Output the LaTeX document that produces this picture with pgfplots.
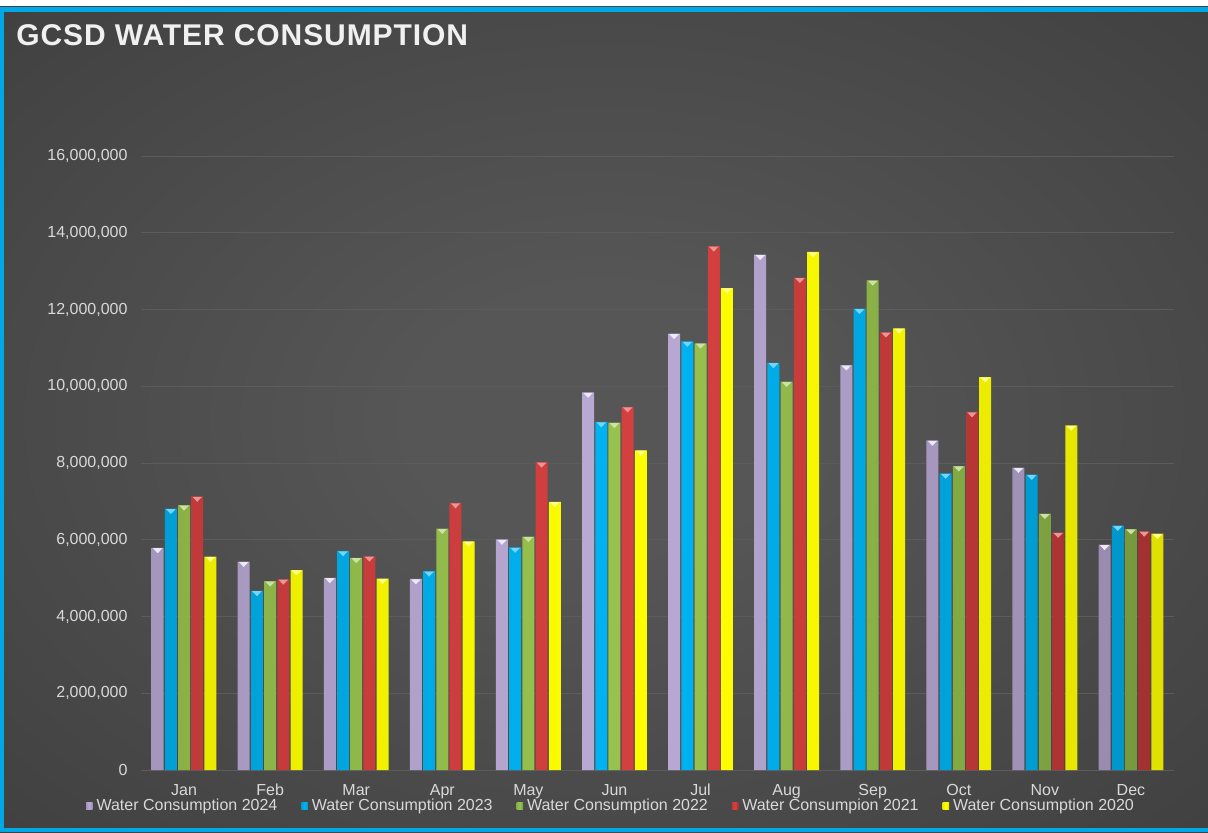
\documentclass[border=0pt]{standalone}
\usepackage{fontspec}
\setmainfont{Liberation Sans}
\usepackage{pgfplots}
\pgfplotsset{compat=1.18}
\usetikzlibrary{shapes.geometric}
\definecolor{bgin}{HTML}{565656}
\definecolor{bgout}{HTML}{242424}
\definecolor{frameblue}{HTML}{00A8E8}
\definecolor{lbl}{HTML}{D9D9D9}
\definecolor{gridc}{HTML}{5C5C5C}
\definecolor{cA}{HTML}{BAAAD6}
\definecolor{cB}{HTML}{00B4F2}
\definecolor{cC}{HTML}{98C44E}
\definecolor{cD}{HTML}{D64040}
\definecolor{cE}{HTML}{FFFF00}
\pgfdeclareradialshading{bgshade}{\pgfpoint{0bp}{0bp}}{color(0bp)=(bgin); color(8bp)=(bgin); color(72bp)=(bgout)}
\tikzset{tri/.style={shape=isosceles triangle, shape border rotate=270, isosceles triangle stretches, minimum width=4.8pt, minimum height=2.5pt, inner sep=0pt, draw=none, fill=#1, anchor=north}}
\begin{document}
\begin{tikzpicture}
\fill[white] (0,0) rectangle (604pt,416pt);
\shade[shading=bgshade] (0,0) rectangle (604pt,412.5pt);
\fill[frameblue] (0,410pt) rectangle (604pt,412.5pt);
\fill[frameblue] (0,0) rectangle (2.2pt,412.5pt);
\fill[frameblue] (0,0) rectangle (604pt,1.8pt);
\node[anchor=west, inner sep=0pt, text=white!94!black, font=\bfseries\fontsize{15}{18}\selectfont\addfontfeature{LetterSpace=3}] at (8pt,398.5pt) {GCSD WATER CONSUMPTION};
\begin{axis}[
  at={(70.5pt,31pt)}, anchor=south west, scale only axis,
  width=516.5pt, height=307pt,
  xmin=-0.5, xmax=11.5, ymin=0, ymax=16000000,
  clip=false,
  ybar=0.6pt, bar width=6pt,
  xtick={0,...,11},
  xticklabels={Jan,Feb,Mar,Apr,May,Jun,Jul,Aug,Sep,Oct,Nov,Dec},
  ytick={0,2000000,4000000,6000000,8000000,10000000,12000000,14000000,16000000},
  scaled y ticks=false,
  yticklabel style={xshift=-3.2pt, /pgf/number format/fixed, /pgf/number format/1000 sep={,}, /pgf/number format/assume math mode=true},
  xticklabel style={yshift=-3.5pt},
  ticklabel style={text=lbl, font=\fontsize{8}{9.6}\selectfont},
  axis line style={draw=none},
  tick style={draw=none},
  major tick length=0pt,
  ymajorgrids,
  grid style={gridc, line width=0.5pt},
  legend columns=5,
  legend style={at={(0.456,-0.0586)}, anchor=center, draw=none, fill=none,
    text=lbl, font=\fontsize{8}{9.6}\selectfont,
    /tikz/every even column/.append style={column sep=10pt}},
  legend image code/.code={\fill[#1,draw=none] (0pt,-1.6pt) rectangle (3.2pt,1.6pt);},
]
\addplot[draw=none, left color=cA!88!black, right color=cA!82!black, middle color=cA,
  nodes near coords={}, every node near coord/.append style={tri=white!75!cA}]
  coordinates {(0,5790000) (1,5430000) (2,5010000) (3,4980000) (4,6010000) (5,9840000) (6,11370000) (7,13430000) (8,10550000) (9,8590000) (10,7880000) (11,5870000)};
\addlegendentry{Water Consumption 2024}
\addplot[draw=none, left color=cB!88!black, right color=cB!84!black, middle color=cB,
  nodes near coords={}, every node near coord/.append style={tri=white!45!cB}]
  coordinates {(0,6810000) (1,4670000) (2,5710000) (3,5180000) (4,5800000) (5,9070000) (6,11170000) (7,10610000) (8,12020000) (9,7730000) (10,7700000) (11,6370000)};
\addlegendentry{Water Consumption 2023}
\addplot[draw=none, left color=cC!90!black, right color=cC!78!black, middle color=cC,
  nodes near coords={}, every node near coord/.append style={tri=white!50!cC}]
  coordinates {(0,6900000) (1,4920000) (2,5530000) (3,6290000) (4,6080000) (5,9050000) (6,11120000) (7,10120000) (8,12760000) (9,7920000) (10,6680000) (11,6280000)};
\addlegendentry{Water Consumption 2022}
\addplot[draw=none, left color=cD!90!black, right color=cD!76!black, middle color=cD,
  nodes near coords={}, every node near coord/.append style={tri=white!45!cD}]
  coordinates {(0,7130000) (1,4970000) (2,5570000) (3,6960000) (4,8020000) (5,9460000) (6,13650000) (7,12830000) (8,11410000) (9,9330000) (10,6190000) (11,6220000)};
\addlegendentry{Water Consumpion 2021}
\addplot[draw=none, left color=cE!92!black, right color=cE!88!black, middle color=cE,
  nodes near coords={}, every node near coord/.append style={tri=white!55!cE}]
  coordinates {(0,5560000) (1,5210000) (2,4990000) (3,5960000) (4,6990000) (5,8330000) (6,12560000) (7,13500000) (8,11510000) (9,10240000) (10,8980000) (11,6160000)};
\addlegendentry{Water Consumption 2020}
\end{axis}
\pgfresetboundingbox
\path (0,0) rectangle (604pt,416pt);
\end{tikzpicture}
\end{document}
